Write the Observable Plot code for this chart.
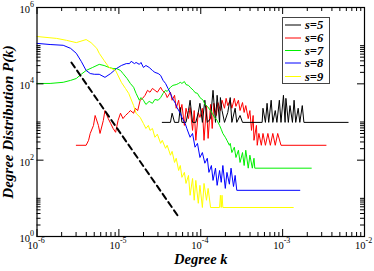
<!DOCTYPE html>
<html>
<head>
<meta charset="utf-8">
<script src="https://cdn.jsdelivr.net/npm/d3@7"></script>
<script src="https://cdn.jsdelivr.net/npm/@observablehq/plot@0.6"></script>
<style>
  html, body { margin: 0; padding: 0; background: #fff; }
  #wrap { position: relative; width: 374px; height: 271px; }
  #legend { position: absolute; left: 282px; top: 17px; width: 48px; height: 67px; }
</style>
</head>
<body>
<div id="wrap"><div id="chart"></div><div id="legend"></div></div>
<script>
// Values, stored as [log10(k), log10(P(k))]
const seriesNames = ["s=5", "s=6", "s=7", "s=8", "s=9"];
const seriesColors = ["#000000", "#ff0000", "#00f000", "#0000ff", "#ffff00"];

const s5 = [[-4.47,2.99],[-4.37,2.99],[-4.35,3.23],[-4.32,2.99],[-4.27,2.99],[-4.25,3.38],[-4.23,2.99],[-4.18,2.99],[-4.15,3.30],[-4.13,3.57],
  [-4.10,2.99],[-4.06,2.99],[-4.03,3.25],[-4.01,3.49],[-3.98,2.99],[-3.95,3.57],[-3.92,2.99],[-3.88,3.09],[-3.85,3.83],[-3.82,2.99],
  [-3.80,3.70],[-3.77,2.99],[-3.76,3.64],[-3.74,3.30],[-3.71,2.99],[-3.67,3.25],[-3.64,3.64],[-3.62,2.99],[-3.58,3.36],[-3.56,2.99],
  [-3.52,3.17],[-3.49,2.99],[-3.25,2.99],[-3.24,3.36],[-3.21,2.99],[-3.19,3.49],[-3.17,2.99],[-3.14,3.57],[-3.12,2.99],[-3.09,3.30],
  [-3.07,2.99],[-3.04,3.57],[-3.02,2.99],[-2.99,3.70],[-2.97,2.99],[-2.96,3.62],[-2.93,2.99],[-2.91,3.43],[-2.88,2.99],[-2.86,3.57],
  [-2.84,2.99],[-2.81,3.36],[-2.79,2.99],[-2.76,3.43],[-2.74,2.99],[-2.20,2.99]];

const s6 = [[-5.52,2.39],[-5.40,2.39],[-5.37,2.52],[-5.35,2.70],[-5.31,2.91],[-5.29,3.17],[-5.25,2.91],[-5.23,2.70],[-5.19,3.04],[-5.17,3.30],
  [-5.13,3.09],[-5.10,2.96],[-5.07,2.83],[-5.04,2.73],[-5.01,3.04],[-4.98,3.23],[-4.95,3.09],[-4.92,3.17],[-4.88,3.25],[-4.86,3.30],
  [-4.82,3.23],[-4.80,3.36],[-4.77,3.30],[-4.74,3.57],[-4.71,3.62],[-4.68,3.70],[-4.65,3.83],[-4.62,3.78],[-4.59,3.88],[-4.56,3.83],
  [-4.53,3.78],[-4.49,3.91],[-4.47,3.83],[-4.43,3.75],[-4.41,3.64],[-4.37,3.78],[-4.35,3.57],[-4.32,3.70],[-4.30,3.36],[-4.27,3.57],
  [-4.25,3.25],[-4.23,3.46],[-4.20,2.91],[-4.18,3.36],[-4.15,3.09],[-4.13,3.38],[-4.10,2.78],[-4.08,3.30],[-4.06,2.52],[-4.03,3.25],
  [-4.01,3.12],[-3.98,3.36],[-3.96,2.52],[-3.93,3.43],[-3.91,2.57],[-3.88,3.46],[-3.86,2.83],[-3.84,3.49],[-3.81,3.17],[-3.79,3.51],
  [-3.76,3.30],[-3.74,3.57],[-3.71,3.36],[-3.69,3.62],[-3.67,3.43],[-3.64,3.57],[-3.62,3.36],[-3.59,3.62],[-3.57,3.41],[-3.54,3.57],
  [-3.52,3.30],[-3.49,3.51],[-3.47,3.25],[-3.45,3.43],[-3.42,3.09],[-3.40,3.30],[-3.38,2.78],[-3.36,3.17],[-3.35,2.52],[-3.32,2.91],
  [-3.31,2.39],[-3.29,2.70],[-3.26,2.39],[-3.24,2.70],[-3.21,2.39],[-3.18,2.70],[-3.15,2.39],[-3.12,2.70],[-3.09,2.39],[-3.06,2.70],
  [-3.02,2.39],[-2.47,2.39]];

const s7 = [[-6.00,4.01],[-5.84,4.01],[-5.68,4.04],[-5.59,4.09],[-5.52,4.14],[-5.46,4.25],[-5.40,4.35],[-5.32,4.43],[-5.24,4.51],[-5.18,4.48],
  [-5.12,4.43],[-5.07,4.40],[-5.03,4.40],[-4.98,4.35],[-4.95,4.27],[-4.90,4.14],[-4.86,4.01],[-4.82,3.91],[-4.79,3.75],[-4.75,3.57],
  [-4.73,3.64],[-4.70,3.57],[-4.67,3.46],[-4.63,3.54],[-4.59,3.49],[-4.56,3.59],[-4.52,3.57],[-4.49,3.64],[-4.46,3.75],[-4.43,3.83],
  [-4.41,3.80],[-4.37,3.91],[-4.34,3.96],[-4.30,3.98],[-4.27,4.01],[-4.25,4.04],[-4.23,4.01],[-4.20,4.06],[-4.18,3.98],[-4.15,3.96],
  [-4.13,3.91],[-4.09,3.83],[-4.07,3.77],[-4.04,3.75],[-4.01,3.64],[-3.97,3.57],[-3.95,3.46],[-3.92,3.41],[-3.88,3.30],[-3.86,3.23],
  [-3.84,3.15],[-3.80,3.04],[-3.77,2.91],[-3.75,2.81],[-3.73,2.70],[-3.70,2.60],[-3.68,2.52],[-3.65,2.39],[-3.64,2.44],[-3.62,2.20],
  [-3.59,2.34],[-3.57,2.07],[-3.54,2.26],[-3.52,1.94],[-3.49,2.20],[-3.47,1.86],[-3.45,2.26],[-3.42,1.79],[-3.40,2.13],[-3.37,1.79],
  [-3.35,2.05],[-3.34,1.79],[-2.65,1.79]];

const s8 = [[-6.00,5.06],[-5.84,5.03],[-5.68,5.01],[-5.59,4.93],[-5.52,4.80],[-5.46,4.59],[-5.40,4.35],[-5.35,4.27],[-5.30,4.25],[-5.24,4.25],
  [-5.17,4.17],[-5.10,4.27],[-5.03,4.40],[-4.97,4.48],[-4.91,4.53],[-4.87,4.53],[-4.85,4.59],[-4.81,4.53],[-4.79,4.56],[-4.75,4.51],
  [-4.73,4.56],[-4.70,4.43],[-4.67,4.48],[-4.63,4.43],[-4.59,4.35],[-4.56,4.30],[-4.52,4.27],[-4.49,4.22],[-4.46,4.09],[-4.43,4.01],
  [-4.40,3.88],[-4.37,3.75],[-4.35,3.64],[-4.31,3.49],[-4.29,3.38],[-4.25,3.23],[-4.23,3.12],[-4.19,2.96],[-4.17,2.83],[-4.13,2.60],
  [-4.10,2.70],[-4.07,2.34],[-4.04,2.44],[-4.01,2.07],[-3.98,2.20],[-3.95,1.92],[-3.92,2.05],[-3.90,1.68],[-3.87,1.86],[-3.85,1.47],
  [-3.82,1.79],[-3.80,1.34],[-3.77,1.73],[-3.75,1.42],[-3.73,1.86],[-3.70,1.26],[-3.68,1.68],[-3.65,1.37],[-3.63,1.79],[-3.60,1.31],
  [-3.58,1.60],[-3.56,1.21],[-2.79,1.21]];

const s9 = [[-6.00,5.24],[-5.76,5.19],[-5.64,5.14],[-5.52,5.08],[-5.40,5.16],[-5.34,5.08],[-5.27,4.93],[-5.24,4.80],[-5.18,4.61],[-5.12,4.43],
  [-5.04,4.35],[-4.97,4.04],[-4.92,3.88],[-4.88,3.75],[-4.82,3.43],[-4.79,3.23],[-4.74,3.12],[-4.70,2.96],[-4.67,2.83],[-4.64,2.91],
  [-4.62,2.78],[-4.59,2.83],[-4.56,2.60],[-4.53,2.68],[-4.49,2.44],[-4.47,2.52],[-4.43,2.31],[-4.41,2.39],[-4.37,2.13],[-4.35,2.23],
  [-4.32,1.94],[-4.30,2.05],[-4.27,1.73],[-4.25,1.86],[-4.23,1.55],[-4.20,1.68],[-4.18,1.39],[-4.15,1.60],[-4.13,1.08],[-4.10,1.52],
  [-4.08,0.95],[-4.06,1.47],[-4.03,0.87],[-4.01,1.34],[-3.98,0.76],[-3.96,1.39],[-3.93,0.95],[-3.91,1.26],[-3.88,0.76],[-3.77,0.76],
  [-3.76,1.08],[-3.75,0.76],[-3.74,1.08],[-3.73,0.76],[-2.87,0.76]];

// Reference power-law guide (dashed)
const guide = [[-5.58,4.56],[-4.26,0.48]];

// Axis ticks and labels
const xMajor = [1e-6, 1e-5, 1e-4, 1e-3, 1e-2];
const xExps = ["-6", "-5", "-4", "-3", "-2"];
const yMajor = [1, 1e2, 1e4, 1e6];
const yExps = ["0", "2", "4", "6"];
const xMinorMult = [2, 3, 4, 5, 6, 7, 8, 9];
const yMinorMult = [2, 3, 4, 5, 6, 7, 8, 9, 10];

const xTitle = "Degree k";
const yTitle = "Degree Distribution P(k)";

// ---- build tables ----
const toRows = (arr, name) => arr.map(([lk, lp]) => ({k: 10 ** lk, p: 10 ** lp, s: name}));
const allSeries = [s5, s6, s7, s8, s9];
const drawOrder = [1, 0, 2, 3, 4];
const xMinor = xMajor.slice(0, -1).flatMap(v => xMinorMult.map(m => m * v));
const yMinor = yMajor.slice(0, -1).flatMap(v => yMinorMult.map(m => m * v));
const xLab = xMajor.map((v, i) => ({v, e: xExps[i]}));
const yLab = yMajor.map((v, i) => ({v, e: yExps[i]}));

const W = 374, H = 271, mL = 36.5, mR = 10, mT = 7, mB = 35;
const iH = H - mT - mB, iW = W - mL - mR;
const majLen = 7, minLen = 4;
const serif = "'Liberation Serif', 'Times New Roman', Times, serif";

const lineMarks = drawOrder.map(i =>
  Plot.line(toRows(allSeries[i], seriesNames[i]), {x: "k", y: "p", stroke: seriesColors[i], strokeWidth: 1})
);

const chart = Plot.plot({
  width: W, height: H,
  marginLeft: mL, marginRight: mR, marginTop: mT, marginBottom: mB,
  style: {fontFamily: serif, background: "#fff", overflow: "visible"},
  x: {type: "log", domain: [1e-6, 1e-2], axis: null},
  y: {type: "log", domain: [1, 1e6], axis: null},
  marks: [
    ...lineMarks,
    Plot.line(toRows(guide, "guide"), {x: "k", y: "p", stroke: "#000", strokeWidth: 2, strokeDasharray: "6,4"}),
    // inward ticks on all four sides
    Plot.tickX(xMajor, {x: d => d, insetTop: iH - majLen, stroke: "#000"}),
    Plot.tickX(xMajor, {x: d => d, insetBottom: iH - majLen, stroke: "#000"}),
    Plot.tickX(xMinor, {x: d => d, insetTop: iH - minLen, stroke: "#000"}),
    Plot.tickX(xMinor, {x: d => d, insetBottom: iH - minLen, stroke: "#000"}),
    Plot.tickY(yMajor, {y: d => d, insetRight: iW - majLen, stroke: "#000"}),
    Plot.tickY(yMajor, {y: d => d, insetLeft: iW - majLen, stroke: "#000"}),
    Plot.tickY(yMinor, {y: d => d, insetRight: iW - minLen, stroke: "#000"}),
    Plot.tickY(yMinor, {y: d => d, insetLeft: iW - minLen, stroke: "#000"}),
    Plot.frame({stroke: "#000", strokeWidth: 1.2}),
    // tick labels 10^n
    Plot.text(xLab, {x: "v", text: () => "10", frameAnchor: "bottom", textAnchor: "end", dx: 1, dy: 12.5, fontSize: 10.5, fill: "#000"}),
    Plot.text(xLab, {x: "v", text: "e", frameAnchor: "bottom", textAnchor: "start", dx: 1, dy: 6.5, fontSize: 8, fill: "#000"}),
    Plot.text(yLab, {y: "v", text: () => "10", frameAnchor: "left", textAnchor: "end", dx: -7, dy: 2, fontSize: 10.5, fill: "#000"}),
    Plot.text(yLab, {y: "v", text: "e", frameAnchor: "left", textAnchor: "start", dx: -7, dy: -3, fontSize: 8, fill: "#000"}),
    // axis titles
    Plot.text([xTitle], {text: d => d, frameAnchor: "bottom", textAnchor: "middle", dy: 27, fontSize: 14.5, fontWeight: "bold", fontStyle: "italic", fill: "#000"}),
    Plot.text([yTitle], {text: d => d, frameAnchor: "left", textAnchor: "middle", dx: -29, rotate: -90, fontSize: 15, fontWeight: "bold", fontStyle: "italic", fill: "#000"})
  ]
});
document.getElementById("chart").appendChild(chart);

// legend box (inside plot area, top right)
const lg = d3.select("#legend").append("svg").attr("width", 48).attr("height", 67)
  .style("font-family", serif).style("overflow", "visible");
lg.append("rect").attr("x", 0.5).attr("y", 0.5).attr("width", 47).attr("height", 66)
  .attr("fill", "#fff").attr("stroke", "#444").attr("stroke-width", 1);
const rowY = [8, 21, 33.5, 46, 59.5];
seriesNames.forEach((name, i) => {
  lg.append("line").attr("x1", 3).attr("x2", 19).attr("y1", rowY[i]).attr("y2", rowY[i])
    .attr("stroke", seriesColors[i]).attr("stroke-width", 1);
  lg.append("text").attr("x", 23).attr("y", rowY[i] + 4.3).text(name)
    .attr("font-size", 12.5).attr("font-weight", "bold").attr("font-style", "italic").attr("fill", "#000");
});
</script>
</body>
</html>
